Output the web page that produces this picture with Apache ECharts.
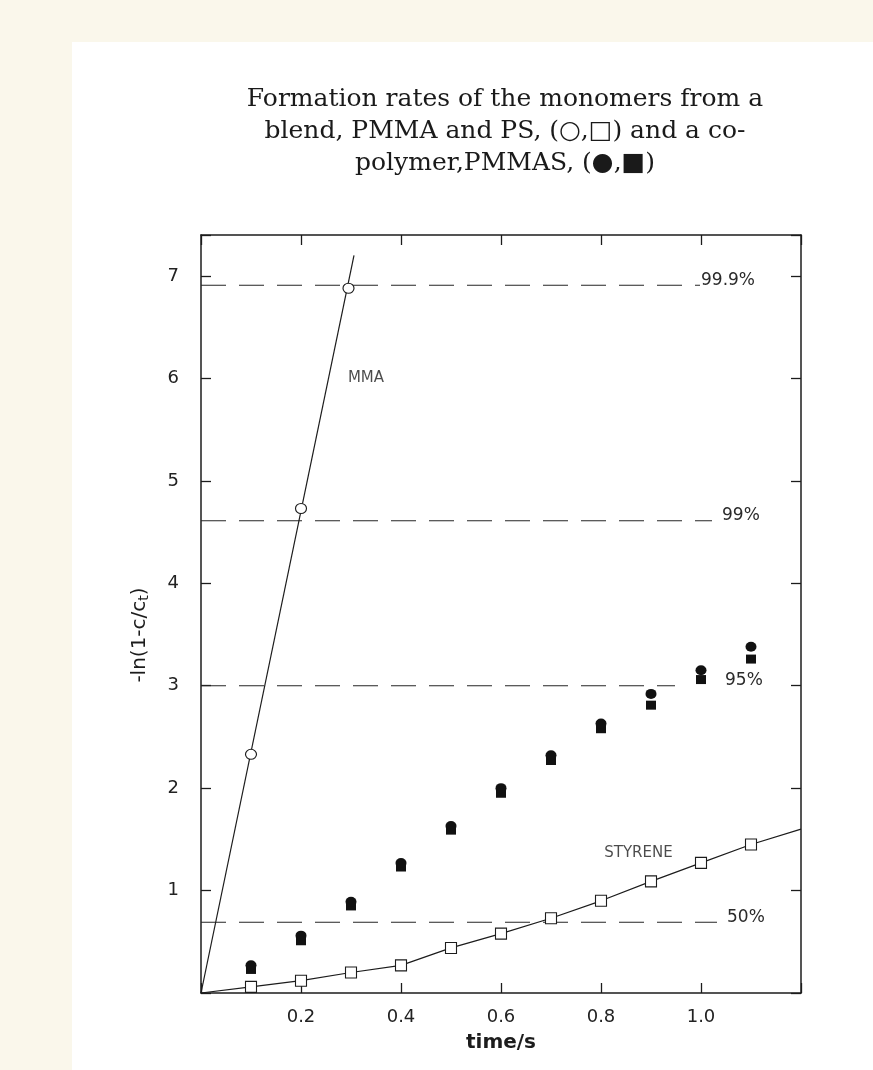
<!DOCTYPE html>
<html>
<head>
<meta charset="utf-8">
<script src="https://cdn.jsdelivr.net/npm/echarts@6/dist/echarts.min.js"></script>
<style>
html,body{margin:0;padding:0;background:#FAF7EB;}
#chart{width:873px;height:1070px;}
</style>
</head>
<body>
<div id="chart"></div>
<script>
// ---- data ----
var times = [0.1, 0.2, 0.3, 0.4, 0.5, 0.6, 0.7, 0.8, 0.9, 1.0, 1.1];
// blend: PMMA (open circles) and PS (open squares)
var mmaBlendX = [0.1, 0.2, 0.295];
var mmaBlendY = [2.33, 4.73, 6.88];
var psBlendY = [0.06, 0.12, 0.20, 0.27, 0.44, 0.58, 0.73, 0.90, 1.09, 1.27, 1.45];
// copolymer PMMAS (filled circles / filled squares)
var copolyCircleY = [0.27, 0.56, 0.89, 1.27, 1.63, 2.00, 2.32, 2.63, 2.92, 3.15, 3.38];
var copolySquareY = [0.23, 0.51, 0.85, 1.23, 1.59, 1.95, 2.27, 2.58, 2.81, 3.06, 3.26];
// fitted / drawn lines
var mmaLineX = [0, 0.306];
var mmaLineY = [0, 7.2];
var styLineStart = [0, 0];
var styLineEnd = [1.2, 1.6];
// conversion reference levels
var refLevels = [6.91, 4.61, 3.0, 0.69];
var refLabels = ['99.9%', '99%', '95%', '50%'];
var refEnds = [0.998, 1.022, 0.948, 1.032];
// annotations
var annoX = [0.33, 0.875];
var annoY = [6.0, 1.37];
var annoText = ['MMA', 'STYRENE'];
var xTicks = [0.2, 0.4, 0.6, 0.8, 1.0];
var yTicks = [1, 2, 3, 4, 5, 6, 7];

// ---- build ----
var ink = '#1c1c1c';
function pairs(xs, ys) { return xs.map(function (x, i) { return [x, ys[i]]; }); }
var psPts = pairs(times, psBlendY);
var styLine = [styLineStart].concat(psPts).concat([styLineEnd]);

var series = [];
series.push({type: 'line', data: pairs(mmaLineX, mmaLineY), symbol: 'none', silent: true,
  lineStyle: {color: ink, width: 1.2}, z: 3});
series.push({type: 'line', data: styLine, symbol: 'none', silent: true,
  lineStyle: {color: ink, width: 1.2}, z: 3});
refLevels.forEach(function (lv, i) {
  series.push({type: 'line', data: [[0, lv], [refEnds[i], lv]], symbol: 'none', silent: true,
    lineStyle: {color: '#262626', width: 1.1, type: [25, 13]}, z: 2,
    endLabel: {show: true, formatter: refLabels[i], distance: [1, 10, 50, 10][i], offset: [0, -5],
      fontFamily: 'DejaVu Sans', fontSize: 17, color: '#2a2a2a'}});
});
series.push({type: 'scatter', data: pairs(mmaBlendX, mmaBlendY), symbol: 'circle', symbolSize: [11, 10],
  itemStyle: {color: '#fff', borderColor: ink, borderWidth: 1.1, opacity: 1}, z: 5});
series.push({type: 'scatter', data: psPts, symbol: 'rect', symbolSize: 11,
  itemStyle: {color: '#fff', borderColor: ink, borderWidth: 1.1, opacity: 1}, z: 5});
series.push({type: 'scatter', data: pairs(times, copolySquareY), symbol: 'rect', symbolSize: [10, 9],
  itemStyle: {color: '#111', opacity: 1}, z: 5});
series.push({type: 'scatter', data: pairs(times, copolyCircleY), symbol: 'circle', symbolSize: [11, 10],
  itemStyle: {color: '#111', opacity: 1}, z: 6});
series.push({type: 'scatter', data: annoX.map(function (x, i) { return [x, annoY[i], annoText[i]]; }),
  symbolSize: 0, silent: true, z: 7,
  label: {show: true, position: 'inside', formatter: function (p) { return p.value[2]; },
    fontFamily: 'DejaVu Sans', fontSize: 15, color: '#1e1e1e'}});

var axisCommon = {
  axisLine: {show: true, onZero: false, lineStyle: {color: ink, width: 1.5}},
  axisTick: {show: true, inside: true, length: 10, lineStyle: {color: ink, width: 1.3}},
  splitLine: {show: false}
};
function merge(a, b) { var o = {}; for (var k in a) o[k] = a[k]; for (var k2 in b) o[k2] = b[k2]; return o; }

var option = {
  backgroundColor: '#FAF7EB',
  animation: false,
  title: {
    text: 'Formation rates of the monomers from a\nblend, PMMA and PS, (○,□) and a co-\npolymer,PMMAS, (●,■)',
    left: 500, top: 78, textAlign: 'center',
    textStyle: {fontFamily: 'DejaVu Serif', fontSize: 25, fontWeight: 'normal', color: '#1a1a1a', lineHeight: 32, align: 'center'}
  },
  graphic: [
    {type: 'rect', z: -100, silent: true, shape: {x: 72, y: 42, width: 801, height: 1028}, style: {fill: '#ffffff'}},
    {type: 'text', x: 140, y: 635, rotation: Math.PI / 2, silent: true,
      style: {text: '-ln(1-c/c{s|t})', fill: '#1c1c1c', font: '20px "DejaVu Sans"',
        align: 'center', verticalAlign: 'middle', textAlign: 'center', textVerticalAlign: 'middle',
        rich: {s: {fontSize: 14, fontFamily: 'DejaVu Sans', fill: '#1c1c1c', padding: [8, 0, 0, 0]}}}}
  ],
  grid: {left: 201, right: 72, top: 235, bottom: 77, containLabel: false},
  xAxis: [
    merge(axisCommon, {type: 'value', position: 'bottom', min: 0, max: 1.2, interval: 0.2,
      name: 'time/s', nameLocation: 'middle', nameGap: 40,
      nameTextStyle: {fontFamily: 'DejaVu Sans', fontSize: 20, fontWeight: 'bold', color: '#1c1c1c'},
      axisLabel: {margin: 15, fontFamily: 'DejaVu Sans', fontSize: 18, color: '#222',
        formatter: function (v) { return xTicks.some(function (t) { return Math.abs(t - v) < 1e-6; }) ? v.toFixed(1) : ''; }}}),
    merge(axisCommon, {type: 'value', position: 'top', min: 0, max: 1.2, interval: 0.2, axisLabel: {show: false}})
  ],
  yAxis: [
    merge(axisCommon, {type: 'value', position: 'left', min: 0, max: 7.4, interval: 1,
      axisLabel: {margin: 22, fontFamily: 'DejaVu Sans', fontSize: 18, color: '#222',
        formatter: function (v) { return yTicks.indexOf(v) >= 0 ? String(v) : ''; }}}),
    merge(axisCommon, {type: 'value', position: 'right', min: 0, max: 7.4, interval: 1, axisLabel: {show: false}})
  ],
  series: series
};
var chart = echarts.init(document.getElementById('chart'), null, {renderer: 'canvas'});
chart.setOption(option);
</script>
</body>
</html>
